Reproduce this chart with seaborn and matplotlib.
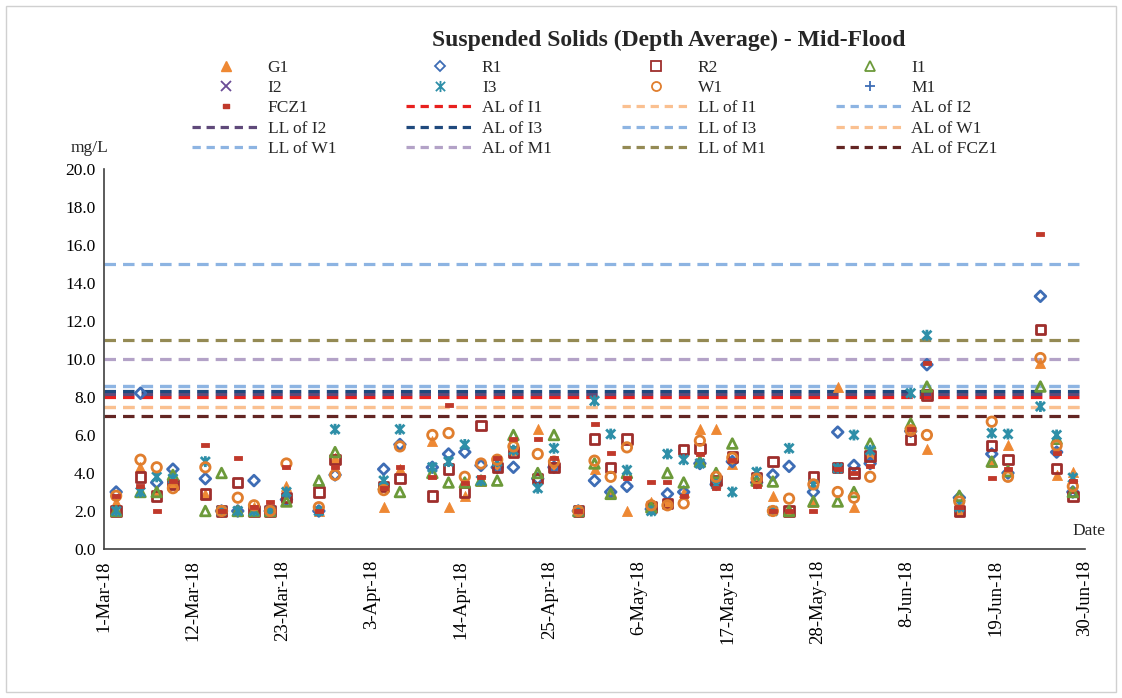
import numpy as np
import pandas as pd
import matplotlib
matplotlib.use("Agg")
import matplotlib.pyplot as plt
import matplotlib.dates as mdates
from matplotlib.path import Path
from matplotlib.lines import Line2D
from matplotlib.patches import Rectangle
from matplotlib.ticker import FormatStrFormatter
import seaborn as sns

# ---------------------------------------------------------------- data
dates = [
    "2018-03-02", "2018-03-05", "2018-03-07", "2018-03-09", "2018-03-13",
    "2018-03-15", "2018-03-17", "2018-03-19", "2018-03-21", "2018-03-23",
    "2018-03-27", "2018-03-29", "2018-04-04", "2018-04-06", "2018-04-10",
    "2018-04-12", "2018-04-14", "2018-04-16", "2018-04-18", "2018-04-20",
    "2018-04-23", "2018-04-25", "2018-04-28", "2018-04-30", "2018-05-02",
    "2018-05-04", "2018-05-07", "2018-05-09", "2018-05-11", "2018-05-13",
    "2018-05-15", "2018-05-17", "2018-05-20", "2018-05-22", "2018-05-24",
    "2018-05-27", "2018-05-30", "2018-06-01", "2018-06-03", "2018-06-08",
    "2018-06-10", "2018-06-14", "2018-06-18", "2018-06-20", "2018-06-24",
    "2018-06-26", "2018-06-28",
]

G1 = [2.5, 4.3, 3.0, 3.5, 2.9, 2.0, 2.0, 2.2, 2.0, 3.3,
      2.0, 4.8, 2.2, 4.2, 5.7, 2.2, 2.8, 3.6, 4.4, 5.2,
      6.3, 4.4, 2.0, 4.2, 3.0, 2.0, 2.5, 2.4, 3.0, 6.3,
      6.3, 4.5, 3.6, 2.8, 2.0, 2.5, 8.55, 2.2, 5.0, 6.2,
      5.25, 2.0, 4.6, 5.45, 9.8, 3.9, 4.05]
R1 = [3.0, 8.2, 3.5, 4.2, 3.7, 2.0, 2.0, 3.6, 2.0, 2.6,
      2.0, 3.9, 4.2, 5.5, 4.3, 5.0, 5.1, 4.4, 4.3, 4.3,
      3.7, 4.3, 2.0, 3.6, 3.0, 3.3, 2.1, 2.9, 3.0, 4.5,
      3.4, 4.6, 3.5, 3.9, 4.35, 3.0, 6.15, 4.4, 4.5, 6.2,
      9.7, 2.7, 5.0, 4.0, 13.3, 5.1, 3.0]
R2 = [2.0, 3.8, 2.8, 3.4, 2.9, 2.0, 3.5, 2.0, 2.0, 2.7,
      3.0, 4.7, 3.3, 3.7, 2.8, 4.2, 3.0, 6.5, 4.3, 5.1,
      3.7, 4.3, 2.0, 5.8, 4.3, 5.8, 2.2, 2.4, 5.25, 5.3,
      3.6, 4.85, 3.75, 4.6, 2.0, 3.8, 4.3, 4.0, 4.9, 5.75,
      8.1, 2.0, 5.45, 4.7, 11.55, 4.25, 2.75]
I1 = [2.0, 3.0, 3.0, 3.9, 2.0, 4.0, 2.0, 2.0, 2.0, 2.5,
      3.6, 5.1, 3.4, 3.0, 4.0, 3.5, 3.5, 3.6, 3.6, 6.0,
      4.0, 6.0, 2.0, 4.5, 2.9, 4.0, 2.2, 4.0, 3.5, 4.6,
      4.0, 5.55, 3.6, 3.55, 2.0, 2.5, 2.5, 3.0, 5.55, 6.6,
      8.55, 2.8, 4.6, 4.1, 8.55, 5.8, 3.0]
I2 = [2.0, 4.8, 3.2, 3.3, 3.0, 2.0, 2.0, 2.0, 2.0, 3.8,
      3.0, 2.5, 3.0, 3.5, 5.0, 3.7, 4.3, 5.7, 5.2, 2.5,
      4.0, 4.5, 2.0, 5.05, 2.95, 4.0, 2.0, 3.3, 5.45, 6.1,
      2.6, 4.6, 5.05, 2.0, 3.25, 2.8, 3.55, 4.3, 4.7, 7.05,
      6.0, 2.5, 6.0, 4.0, 13.2, 5.2, 3.5]
I3 = [2.0, 3.0, 3.8, 3.7, 4.6, 2.0, 2.0, 2.0, 2.0, 3.0,
      2.0, 6.3, 3.6, 6.3, 4.3, 4.6, 5.5, 3.6, 4.6, 5.2,
      3.2, 5.3, 2.0, 7.8, 6.05, 4.15, 2.0, 5.0, 4.7, 4.5,
      3.4, 3.0, 4.05, 2.0, 5.3, 3.4, 4.25, 6.0, 5.2, 8.2,
      11.25, 2.2, 6.1, 6.05, 7.5, 6.0, 3.75]
W1 = [2.8, 4.7, 4.3, 3.2, 4.3, 2.0, 2.7, 2.3, 2.0, 4.5,
      2.2, 3.9, 3.1, 5.4, 6.0, 6.1, 3.8, 4.5, 4.7, 5.4,
      5.0, 4.6, 2.0, 4.65, 3.8, 5.35, 2.3, 2.3, 2.4, 5.7,
      3.8, 4.8, 3.7, 2.0, 2.65, 3.4, 3.0, 2.7, 3.8, 6.25,
      6.0, 2.5, 6.7, 3.8, 10.05, 5.45, 3.3]
M1 = [2.0, 3.0, 3.0, 3.3, 11.5, 2.0, 17.5, 3.0, 3.0, 2.6,
      2.6, 3.6, 3.0, 4.5, 8.1, 6.0, 5.2, 6.0, 4.1, 5.0,
      3.1, 5.0, 3.0, 5.5, 4.1, 4.5, 3.0, 2.0, 4.0, 4.6,
      3.6, 7.05, 4.5, 2.0, 2.6, 2.5, 3.0, 4.5, 4.2, 4.5,
      4.5, 3.5, 6.2, 4.9, 15.5, 6.45, 3.0]
FCZ1 = [2.8, 3.3, 2.0, 3.6, 5.5, 2.0, 4.8, 2.2, 2.5, 4.3,
        2.0, 4.3, 3.2, 4.3, 3.8, 7.6, 3.5, 3.8, 4.8, 5.8,
        5.8, 4.8, 2.0, 6.6, 5.05, 3.75, 3.55, 3.55, 2.8, 5.0,
        3.2, 4.7, 3.3, 2.0, 2.0, 2.0, 4.2, 4.0, 4.35, 6.3,
        9.8, 2.2, 3.75, 4.2, 16.6, 5.05, 3.6]

series_names = ["G1", "R1", "R2", "I1", "I2", "I3", "W1", "M1", "FCZ1"]
series_values = [G1, R1, R2, I1, I2, I3, W1, M1, FCZ1]

limit_names = ["AL of I1", "LL of I1", "AL of I2", "LL of I2", "AL of I3",
               "LL of I3", "AL of W1", "LL of W1", "AL of M1", "LL of M1",
               "AL of FCZ1"]
limit_values = [8.0, 7.5, 8.6, 8.15, 8.3, 8.6, 7.5, 15.0, 10.0, 11.0, 7.0]

x_ticks = pd.date_range("2018-03-01", "2018-06-30", freq="11D")
y_ticks = np.arange(0, 20.1, 2.0)

# ---------------------------------------------------------------- styles
# asterisk marker: a cross with a vertical stroke
star_path = Path([(-1, -1), (1, 1), (-1, 1), (1, -1), (0, -1.2), (0, 1.2)],
                 [Path.MOVETO, Path.LINETO, Path.MOVETO, Path.LINETO,
                  Path.MOVETO, Path.LINETO])
# small horizontal bar marker
bar_path = Path([(-1, -0.55), (1, -0.55), (1, 0.55), (-1, 0.55), (-1, -0.55)],
                [Path.MOVETO, Path.LINETO, Path.LINETO, Path.LINETO,
                 Path.CLOSEPOLY])

marker_style = {
    "G1":   dict(marker="^", color="#EE8833", filled=True, s=52, ms=7),
    "R1":   dict(marker="D", color="#3E6DB5", filled=False, s=30, ms=5.5),
    "R2":   dict(marker="s", color="#9E2E2C", filled=False, s=46, ms=6.5),
    "I1":   dict(marker="^", color="#6C9A3A", filled=False, s=48, ms=6.5),
    "I2":   dict(marker="x", color="#6A4C96", filled=False, s=46, ms=6.5),
    "I3":   dict(marker=star_path, color="#2E8FA8", filled=False, s=62, ms=8),
    "W1":   dict(marker="o", color="#E07E2E", filled=False, s=46, ms=6.5),
    "M1":   dict(marker="+", color="#3E6DB5", filled=False, s=54, ms=7),
    "FCZ1": dict(marker=bar_path, color="#C0392B", filled=True, s=26, ms=4.5),
}

limit_colors = {
    "AL of I1": "#E8201E", "LL of I1": "#FAC090", "AL of I2": "#8DB4E2",
    "LL of I2": "#5F497A", "AL of I3": "#1F497D", "LL of I3": "#8DB4E2",
    "AL of W1": "#FAC090", "LL of W1": "#8DB4E2", "AL of M1": "#B3A2C7",
    "LL of M1": "#948A54", "AL of FCZ1": "#632523",
}

# ---------------------------------------------------------------- figure
sns.set_theme(style="white")
plt.rcParams["font.family"] = ["Liberation Serif", "DejaVu Serif"]

fig = plt.figure(figsize=(11.22, 6.98), dpi=100)
ax = fig.add_axes([104 / 1122, 1 - 549 / 698, (1085 - 104) / 1122, (549 - 169) / 698])

# limit lines
for name, val in zip(limit_names, limit_values):
    ax.axhline(val, color=limit_colors[name], lw=2.3, dashes=(3.6, 2.2), zorder=2)

# monitoring station points, plotted at mid-day
day_pos = pd.to_datetime(dates) + pd.Timedelta(hours=12)
for name, vals in zip(series_names, series_values):
    st = marker_style[name]
    df = pd.DataFrame({"Date": day_pos, "SS": vals})
    if st["filled"]:
        kw = dict(facecolor=st["color"], edgecolor=st["color"], linewidth=0.6)
    else:
        kw = dict(facecolor="none", edgecolor=st["color"], linewidth=2.0)
    sns.scatterplot(data=df, x="Date", y="SS", ax=ax, marker=st["marker"],
                    s=st["s"], color=st["color"], legend=False, zorder=3, **kw)

ax.set_xlim(pd.Timestamp("2018-03-01"), pd.Timestamp("2018-06-30"))
ax.set_ylim(0, 20)
ax.set_xticks(x_ticks)
ax.set_yticks(y_ticks)
ax.xaxis.set_major_formatter(mdates.DateFormatter("%-d-%b-%y"))
ax.yaxis.set_major_formatter(FormatStrFormatter("%.1f"))
ax.set_xlabel("")
ax.set_ylabel("")
for side in ["top", "right"]:
    ax.spines[side].set_visible(False)
for side in ["left", "bottom"]:
    ax.spines[side].set_color("#404040")
    ax.spines[side].set_linewidth(1.2)
ax.tick_params(axis="both", direction="in", length=5, width=1.1,
               color="#404040", labelcolor="black")
ax.tick_params(axis="x", rotation=90, pad=8, labelsize=13.5)
ax.tick_params(axis="y", pad=6, labelsize=12.5)
ax.grid(False)

# titles and axis captions
fig.text(669 / 1122, 1 - 40 / 698, "Suspended Solids (Depth Average) - Mid-Flood",
         ha="center", va="center", fontsize=17, fontweight="bold")
fig.text(90 / 1122, 1 - 148 / 698, "mg/L", ha="center", va="center", fontsize=12.5)
fig.text(1072 / 1122, 1 - 531 / 698, "Date", ha="left", va="center", fontsize=12.5)

# legend (row-major order, 4 columns)
handles, labels = [], []
for name in series_names:
    st = marker_style[name]
    if st["filled"]:
        h = Line2D([], [], linestyle="none", marker=st["marker"], markersize=st["ms"],
                   markerfacecolor=st["color"], markeredgecolor=st["color"])
    else:
        h = Line2D([], [], linestyle="none", marker=st["marker"], markersize=st["ms"],
                   markerfacecolor="none", markeredgecolor=st["color"],
                   markeredgewidth=1.3)
    handles.append(h)
    labels.append(name)
for name in limit_names:
    handles.append(Line2D([], [], color=limit_colors[name], lw=2.3, dashes=(2.6, 1.8)))
    labels.append(name)

ncol, nrow = 4, 5
order = [r * ncol + c for c in range(ncol) for r in range(nrow)]
fig.legend([handles[i] for i in order], [labels[i] for i in order],
           ncol=ncol, loc="upper left", bbox_to_anchor=(192 / 1122, 1 - 60 / 698),
           frameon=False, fontsize=12.5, handlelength=3.9, handletextpad=0.45,
           columnspacing=4.05, labelspacing=0.23, borderpad=0, borderaxespad=0)

# chart area border
fig.patches.append(Rectangle((6 / 1122, 6 / 698), 1 - 12 / 1122, 1 - 12 / 698,
                             transform=fig.transFigure, fill=False,
                             edgecolor="#D0D0D0", lw=1.0))

fig.savefig("out.png", dpi=100)
